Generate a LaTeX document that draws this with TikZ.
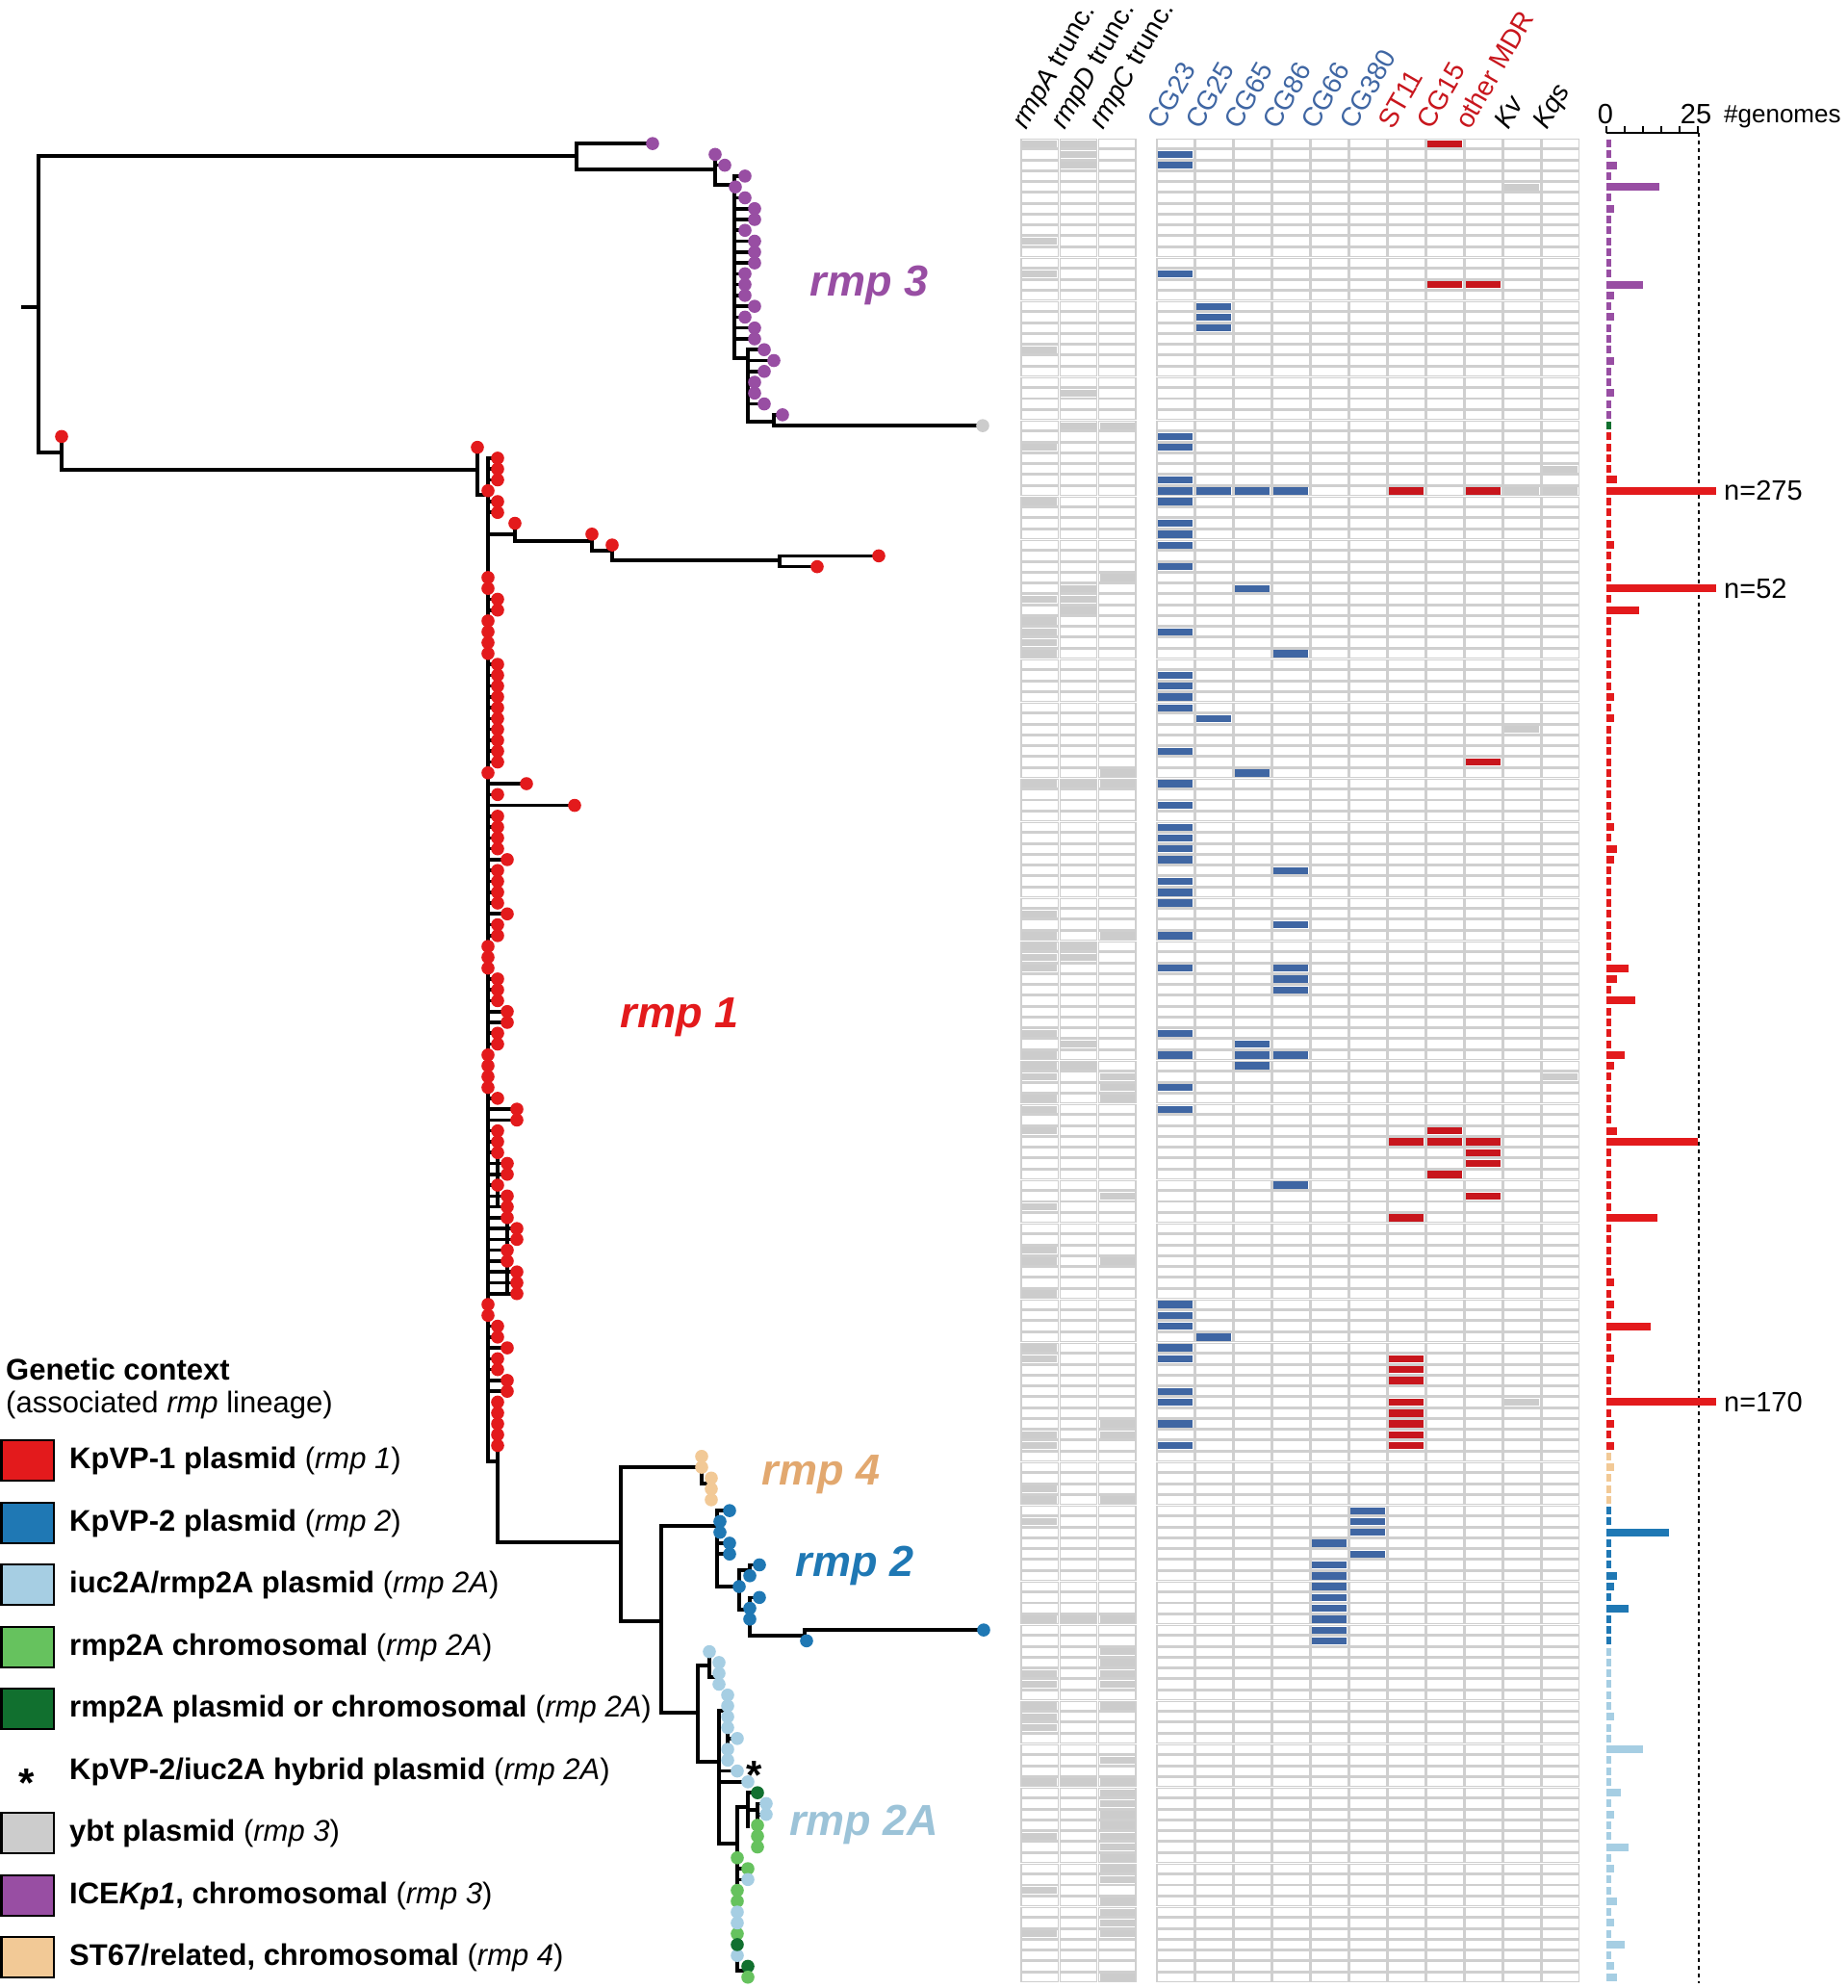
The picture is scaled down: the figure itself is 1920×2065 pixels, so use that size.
\documentclass[tikz,border=0pt]{standalone}
\usepackage{fontspec}
\setmainfont{Liberation Sans}

\definecolor{ctxred}{HTML}{E31A1C}
\definecolor{ctxblue}{HTML}{1F78B4}
\definecolor{ctxlblue}{HTML}{A6CEE3}
\definecolor{ctxgreen}{HTML}{66C25E}
\definecolor{ctxdgreen}{HTML}{11702F}
\definecolor{ctxgray}{HTML}{CCCCCC}
\definecolor{ctxpurple}{HTML}{984EA3}
\definecolor{ctxtan}{HTML}{F2C996}
\definecolor{tanlabel}{HTML}{E2A86F}
\definecolor{lbluelabel}{HTML}{9CC3D8}
\definecolor{cgblue}{HTML}{3F66A3}
\definecolor{mdrred}{HTML}{C8161D}
\definecolor{gridgray}{HTML}{CFCFCF}

% tips of one colour: colour, parent x, tip x, rows
\newcommand{\tipset}[4]{%
  \foreach \r in {#4}{\draw[br] (#2,{ry(\r)}) -- (#3,{ry(\r)});}
  \foreach \r in {#4}{\fill[#1] (#3,{ry(\r)}) circle (6.8);}}
% filled heatmap cells: column left x, colour, rows
\newcommand{\hmcells}[3]{%
  \foreach \r in {#3}{\fill[#2] (#1+2,{143.5+11.27*\r+2}) rectangle ++(36.2,7.4);}}
% bars: colour, row/value
\newcommand{\gbars}[2]{%
  \foreach \r/\v in {#2}{\fill[#1] (1669,{ry(\r)-4}) rectangle ++({3.8*\v},8);}}
\newcommand{\gstubs}[3]{%
  \foreach \r in {#2,...,#3}{\fill[#1] (1669,{ry(\r)-4}) rectangle ++(4.6,8);}}

\begin{document}
\begin{tikzpicture}[x=1pt, y=-1pt,
    declare function={ry(\r)=149.1+11.27*\r;},
    br/.style={line width=3.6pt, line cap=rect, line join=miter},
    cell/.style={draw=gridgray, line width=1.4pt},
    hdr/.style={font=\fontsize{28}{29}\selectfont, rotate=60, anchor=base west, inner sep=0pt},
    clade/.style={font=\fontsize{45}{50}\selectfont\bfseries\itshape},
    lgd/.style={font=\fontsize{31}{35}\selectfont, anchor=west, inner sep=0pt},
    lgdbox/.style={draw=black, line width=2.4pt},
    star/.style={font=\fontsize{42}{42}\selectfont\bfseries, inner sep=0pt},
    cnt/.style={font=\fontsize{29}{30}\selectfont, inner sep=0pt}]

\useasboundingbox (0,0) rectangle (1920,2065);

% ---- tree: root and rmp 3
\draw[br] (24,319) -- (40,319);
\draw[br] (40,162) -- (40,470);
\draw[br] (40,162) -- (599,162);
\draw[br] (599,{ry(0)}) -- (599,176) -- (743,176);
\draw[br] (743,{ry(1)}) -- (743,192) -- (763,192);
\draw[br] (763,{ry(3)}) -- (763,372) -- (777,372);
\draw[br] (777,{ry(19)}) -- (777,438) -- (804,438);
\draw[br] (804,{ry(25)}) -- (804,{ry(26)});

% ---- tree: rmp 1
\draw[br] (40,470) -- (64,470);
\draw[br] (64,{ry(27)}) -- (64,488) -- (496,488);
\draw[br] (496,{ry(28)}) -- (496,514) -- (507,514);
\draw[br] (507,{ry(29)}) -- (507,1518) -- (517,1518);
\draw[br] (517,{ry(116)}) -- (517,1602) -- (645,1602);
\draw[br] (507,555) -- (535,555);
\draw[br] (535,{ry(35)}) -- (535,562) -- (615,562);
\draw[br] (615,{ry(36)}) -- (615,572) -- (636,572);
\draw[br] (636,{ry(37)}) -- (636,582) -- (810,582);
\draw[br] (810,{ry(38)}) -- (810,{ry(39)});
\draw[br] (517,{ry(91)}) -- (517,{ry(98)});
\draw[br] (527,{ry(97)}) -- (527,{ry(106)});

% ---- tree: rmp 4, rmp 2, rmp 2A
\draw[br] (645,1524) -- (645,1684);
\draw[br] (645,1524) -- (729,1524);
\draw[br] (729,{ry(121)}) -- (729,1541) -- (739,1541);
\draw[br] (739,{ry(123)}) -- (739,{ry(125)});
\draw[br] (645,1684) -- (687,1684);
\draw[br] (687,1585) -- (687,1779);
\draw[br] (687,1585) -- (745,1585);
\draw[br] (745,{ry(126)}) -- (745,1648) -- (768,1648);
\draw[br] (768,1631) -- (768,1672);
\draw[br] (768,1631) -- (779,1631);
\draw[br] (779,{ry(131)}) -- (779,{ry(132)});
\draw[br] (768,1672) -- (779,1672);
\draw[br] (779,{ry(134)}) -- (779,1699) -- (836,1699);
\draw[br] (836,{ry(137)}) -- (836,{ry(138)});
\draw[br] (687,1779) -- (725,1779);
\draw[br] (725,1730) -- (725,1830);
\draw[br] (725,1730) -- (737,1730);
\draw[br] (737,{ry(139)}) -- (737,1742) -- (747,1742);
\draw[br] (747,{ry(140)}) -- (747,{ry(142)});
\draw[br] (725,1830) -- (747,1830);
\draw[br] (747,1777) -- (747,1915);
\draw[br] (747,1777) -- (756,1777);
\draw[br] (756,{ry(143)}) -- (756,{ry(149)});
\draw[br] (747,1915) -- (766,1915);
\draw[br] (766,1877) -- (766,2047) -- (777,2047);
\draw[br] (777,{ry(168)}) -- (777,{ry(169)});
\draw[br] (766,1877) -- (777,1877);
\draw[br] (777,{ry(152)}) -- (777,1897);
\draw[br] (777,1880) -- (787,1880);
\draw[br] (787,1874) -- (787,{ry(157)});

% tips
\tipset{ctxpurple}{599}{678}{0}
\tipset{ctxpurple}{743}{743}{1}
\tipset{ctxpurple}{743}{753}{2}
\tipset{ctxpurple}{763}{764}{4}
\tipset{ctxpurple}{763}{774}{3,5,8,12,13,14,16}
\tipset{ctxpurple}{763}{784}{6,7,9,10,11,15,17,18}
\tipset{ctxpurple}{777}{794}{19,21,24}
\tipset{ctxpurple}{777}{804}{20}
\tipset{ctxpurple}{777}{784}{22,23}
\tipset{ctxpurple}{804}{813}{25}
\tipset{ctxgray}{804}{1021}{26}
\tipset{ctxred}{64}{64}{27}
\tipset{ctxred}{496}{496}{28}
\tipset{ctxred}{507}{507}{32,40,41,44,45,46,47,58,74,75,76,84,85,86,87,107,108}
\tipset{ctxred}{507}{517}{29,30,31,33,34,42,43,48,49,50,51,52,53,54,55,56,57,60,62,63,64,65,67,68,69,70,72,73,77,78,79,82,83,88,91,92,93,96,109,110,112,113}
\tipset{ctxred}{517}{517}{116,117,118,119,120}
\tipset{ctxred}{507}{527}{66,71,80,81,94,95,97,98,99,102,103,111,114,115}
\tipset{ctxred}{507}{537}{89,90,100,101,104,105,106}
\tipset{ctxred}{535}{535}{35}
\tipset{ctxred}{615}{615}{36}
\tipset{ctxred}{636}{636}{37}
\tipset{ctxred}{810}{913}{38}
\tipset{ctxred}{810}{849}{39}
\tipset{ctxred}{507}{547}{59}
\tipset{ctxred}{507}{597}{61}
\tipset{ctxtan}{729}{729}{121,122}
\tipset{ctxtan}{739}{739}{123,124,125}
\tipset{ctxblue}{745}{758}{126,129,130}
\tipset{ctxblue}{745}{748}{127,128}
\tipset{ctxblue}{779}{789}{131,134}
\tipset{ctxblue}{779}{779}{132,135,136}
\tipset{ctxblue}{768}{768}{133}
\tipset{ctxblue}{836}{1022}{137}
\tipset{ctxblue}{836}{838}{138}
\tipset{ctxlblue}{737}{737}{139}
\tipset{ctxlblue}{747}{747}{140,141,142}
\tipset{ctxlblue}{756}{756}{143,144,145,146,148,149}
\tipset{ctxlblue}{756}{766}{147}
\tipset{ctxlblue}{747}{766}{150}
\tipset{ctxlblue}{747}{777}{151}
\tipset{ctxdgreen}{777}{787}{152}
\tipset{ctxlblue}{787}{796}{153,154}
\tipset{ctxgreen}{787}{787}{155,156,157}
\tipset{ctxgreen}{766}{766}{158,161,162,165}
\tipset{ctxgreen}{766}{777}{159}
\tipset{ctxlblue}{766}{777}{160}
\tipset{ctxlblue}{766}{766}{163,164,167}
\tipset{ctxdgreen}{766}{766}{166}
\tipset{ctxdgreen}{777}{777}{168}
\tipset{ctxgreen}{777}{777}{169}
\node[star] (hybstar) at (784,1844) {*};

% clade labels
\node[clade, text=ctxpurple] (lab3) at (903,296) {rmp 3};
\node[clade, text=ctxred] (lab1) at (706,1057) {rmp 1};
\node[clade, text=tanlabel] (lab4) at (853,1532) {rmp 4};
\node[clade, text=ctxblue] (lab2) at (888,1626) {rmp 2};
\node[clade, text=lbluelabel] (lab2a) at (898,1895) {rmp 2A};

% ---- heatmap grid
\foreach \r in {0,...,169}{
  \draw[cell] foreach \xl in {1060,1100.3,1140.6}{(\xl+0.9,{143.5+11.27*\r+0.8}) rectangle ++(38.4,9.7)}
              foreach \xl in {1201,1241,...,1601}{(\xl+0.9,{143.5+11.27*\r+0.8}) rectangle ++(38.4,9.7)};
}
% truncations
\hmcells{1060}{ctxgray}{0,9,12,19,28,33,42,44,45,46,47,59,71,73,74,75,76,82,84,85,86,88,89,91,98,102,103,106,111,112,119,120,124,125,127,136,141,142,144,145,146,151,156,161,165}
\hmcells{1100.3}{ctxgray}{0,1,2,23,26,41,42,43,59,74,75,83,85,136,151}
\hmcells{1140.6}{ctxgray}{26,40,58,59,73,86,87,88,97,103,118,119,125,136,139,140,141,142,144,149,151,152,153,154,155,156,157,158,159,160,162,163,164,165,169}
% clonal groups
\hmcells{1201}{cgblue}{1,2,12,27,28,31,32,33,35,36,37,39,45,49,50,51,52,56,59,61,63,64,65,66,68,69,70,73,76,82,84,87,89,107,108,109,111,112,115,116,118,120}
\hmcells{1241}{cgblue}{15,16,17,32,53,110}
\hmcells{1281}{cgblue}{32,41,58,83,84,85}
\hmcells{1321}{cgblue}{32,47,67,72,76,77,78,84,96}
\hmcells{1361}{cgblue}{129,131,132,133,134,135,136,137,138}
\hmcells{1401}{cgblue}{126,127,128,130}
\hmcells{1441}{mdrred}{32,92,99,112,113,114,116,117,118,119,120}
\hmcells{1481}{mdrred}{0,13,91,92,95}
\hmcells{1521}{mdrred}{13,32,57,92,93,94,97}
\hmcells{1561}{ctxgray}{4,32,54,116}
\hmcells{1601}{ctxgray}{30,32,86}

% column headers
\foreach \xl/\txt/\tc [count=\i] in {1060/{\textit{rmpA} trunc.}/black, 1100.3/{\textit{rmpD} trunc.}/black,
    1140.6/{\textit{rmpC} trunc.}/black, 1201/CG23/cgblue, 1241/CG25/cgblue, 1281/CG65/cgblue,
    1321/CG86/cgblue, 1361/CG66/cgblue, 1401/CG380/cgblue, 1441/ST11/mdrred, 1481/CG15/mdrred,
    1521/other MDR/mdrred, 1561/\textit{Kv}/black, 1601/\textit{Kqs}/black}
  \node[hdr, text=\tc] (hdr\i) at (\xl+6,136) {\txt};

% ---- genome counts
\draw[line width=1.8pt] (1669,138) -- (1765,138);
\foreach \k in {0,...,5}
  \draw[line width=1.8pt] ({1669+19*\k},138) -- ({1669+19*\k},131);
\draw[line width=1.6pt, dash pattern=on 4pt off 4pt] (1765,138) -- (1765,2060);
\node[cnt] (ax0) at (1668,119) {0};
\node[cnt] (ax25) at (1762,119) {25};
\node[cnt, anchor=west, font=\fontsize{26}{28}\selectfont] (axname) at (1791,121) {\#genomes};
\gstubs{ctxpurple}{0}{25}
\gstubs{ctxdgreen}{26}{26}
\gstubs{ctxred}{27}{120}
\gstubs{ctxtan}{121}{125}
\gstubs{ctxblue}{126}{138}
\gstubs{ctxlblue}{139}{169}
\gbars{ctxpurple}{2/3, 4/14.5, 6/2, 13/10, 14/2, 16/2, 20/2, 23/2}
\gbars{ctxred}{31/3, 32/30, 37/2, 41/30, 43/9, 51/2, 53/2, 63/2, 65/3, 66/2, 76/6, 77/3, 79/8, 84/5, 85/2, 91/3, 92/25, 99/14, 105/2, 107/2, 109/12, 112/2, 116/30, 118/2, 120/2}
\gbars{ctxtan}{122/2}
\gbars{ctxblue}{128/17, 132/3, 133/2, 135/6}
\gbars{ctxlblue}{145/2, 148/10, 152/4, 154/2, 157/6, 159/2, 162/3, 164/2, 166/5, 168/2, 169/3}
\node[cnt, anchor=west] (n275) at (1791,{ry(32)}) {n=275};
\node[cnt, anchor=west] (n52) at (1791,{ry(41)}) {n=52};
\node[cnt, anchor=west] (n170) at (1791,{ry(116)}) {n=170};

% ---- legend
\node[lgd, font=\fontsize{31}{35}\selectfont\bfseries] (lgdtitle) at (6,1422) {Genetic context};
\node[lgd] (lgdsub) at (6,1459) {(associated \textit{rmp} lineage)};
\foreach \yc/\fc/\txt [count=\i] in {
    1517/ctxred/{\textbf{KpVP-1 plasmid} (\textit{rmp 1})},
    1582/ctxblue/{\textbf{KpVP-2 plasmid} (\textit{rmp 2})},
    1646/ctxlblue/{\textbf{iuc2A/rmp2A plasmid} (\textit{rmp 2A})},
    1711/ctxgreen/{\textbf{rmp2A chromosomal} (\textit{rmp 2A})},
    1775/ctxdgreen/{\textbf{rmp2A plasmid or chromosomal} (\textit{rmp 2A})},
    1904/ctxgray/{\textbf{ybt plasmid} (\textit{rmp 3})},
    1969/ctxpurple/{\textbf{ICE\textit{Kp1}, chromosomal} (\textit{rmp 3})},
    2033/ctxtan/{\textbf{ST67/related, chromosomal} (\textit{rmp 4})}}{
  \draw[lgdbox, fill=\fc] (1.5,\yc-21) rectangle (56,\yc+21);
  \node[lgd] (lgd\i) at (72,\yc) {\txt};
}
\node[star] (lgdstar) at (28,1852) {*};
\node[lgd] (lgdhyb) at (72,1840) {\textbf{KpVP-2/iuc2A hybrid plasmid} (\textit{rmp 2A})};
\end{tikzpicture}
\end{document}
